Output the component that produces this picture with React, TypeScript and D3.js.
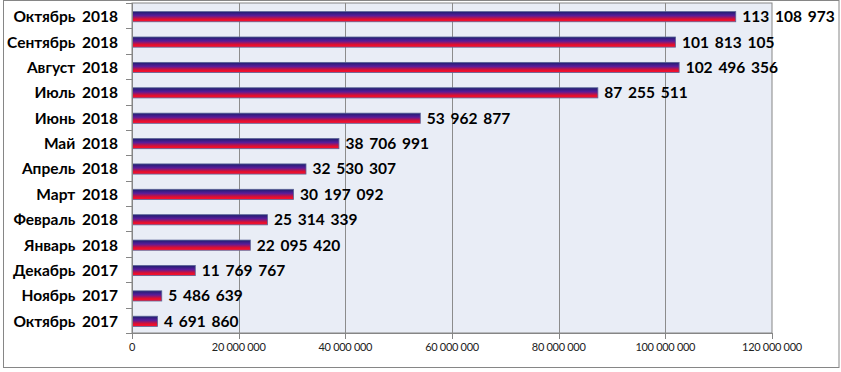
import { useEffect, useRef } from "react";
import * as d3 from "d3";

// Данные: месяцы и значения
const months = [
  "Октябрь 2018", "Сентябрь 2018", "Август 2018", "Июль 2018", "Июнь 2018",
  "Май 2018", "Апрель 2018", "Март 2018", "Февраль 2018", "Январь 2018",
  "Декабрь 2017", "Ноябрь 2017", "Октябрь 2017",
];
const values = [
  113108973, 101813105, 102496356, 87255511, 53962877,
  38706991, 32530307, 30197092, 25314339, 22095420,
  11769767, 5486639, 4691860,
];
const xTicks = [0, 20000000, 40000000, 60000000, 80000000, 100000000, 120000000];

const width = 841;
const height = 372;
const plot = { left: 132, right: 772, top: 3, bottom: 333 };

const fmt = (v: number) => d3.format(",d")(v).replace(/,/g, " ");

const drawChart = (el: SVGSVGElement) => {
  const svg = d3.select(el);
  svg.selectAll("*").remove();

  const x = d3.scaleLinear().domain([0, 120000000]).range([plot.left, plot.right]);
  const y = d3.scaleBand().domain(months).range([plot.top, plot.bottom]).paddingInner(0.6).paddingOuter(0.3);
  const band = d3.scaleBand().domain(months).range([plot.top, plot.bottom]);

  // градиент для баров
  const grad = svg.append("defs").append("linearGradient")
    .attr("id", "barGrad").attr("x1", 0).attr("y1", 0).attr("x2", 0).attr("y2", 1);
  grad.append("stop").attr("offset", "0%").attr("stop-color", "#1c1f70");
  grad.append("stop").attr("offset", "40%").attr("stop-color", "#5a1c9a");
  grad.append("stop").attr("offset", "75%").attr("stop-color", "#e0102e");
  grad.append("stop").attr("offset", "100%").attr("stop-color", "#ff1030");

  // внешняя рамка
  svg.append("rect")
    .attr("x", 3.5).attr("y", 0.5).attr("width", 835.5).attr("height", 367)
    .attr("fill", "white").attr("stroke", "#868686");

  // фон области построения
  svg.append("rect")
    .attr("x", plot.left).attr("y", plot.top)
    .attr("width", plot.right - plot.left).attr("height", plot.bottom - plot.top)
    .attr("fill", "#e9edf6").attr("stroke", "#868686");

  // сетка
  svg.append("g")
    .selectAll("line")
    .data(xTicks.slice(1, -1))
    .join("line")
    .attr("x1", d => Math.round(x(d)) + 0.5).attr("x2", d => Math.round(x(d)) + 0.5)
    .attr("y1", plot.top).attr("y2", plot.bottom)
    .attr("stroke", "#8c8c8c");

  // бары
  svg.append("g")
    .selectAll("rect")
    .data(months)
    .join("rect")
    .attr("x", plot.left + 0.5)
    .attr("y", d => y(d)! + 1)
    .attr("width", (d, i) => x(values[i]) - plot.left)
    .attr("height", y.bandwidth())
    .attr("fill", "url(#barGrad)")
    .attr("stroke", "#5b6496")
    .attr("stroke-width", 0.8);

  // подписи значений
  svg.append("g")
    .attr("font-family", "Lato, sans-serif")
    .attr("font-weight", "bold")
    .attr("font-size", 15.5)
    .attr("word-spacing", 2)
    .selectAll("text")
    .data(months)
    .join("text")
    .attr("x", (d, i) => x(values[i]) + 7)
    .attr("y", d => y(d)! + y.bandwidth() / 2 + 1)
    .attr("dy", "0.35em")
    .attr("fill", "#000")
    .text((d, i) => fmt(values[i]));

  // ось Y
  const yAxis = svg.append("g");
  yAxis.append("line")
    .attr("x1", plot.left + 0.5).attr("x2", plot.left + 0.5)
    .attr("y1", plot.top).attr("y2", plot.bottom)
    .attr("stroke", "#868686");
  const bounds = months.map(m => band(m)!).concat([plot.bottom]);
  yAxis.selectAll("line.tick")
    .data(bounds)
    .join("line")
    .attr("class", "tick")
    .attr("x1", plot.left - 6).attr("x2", plot.left)
    .attr("y1", d => Math.round(d) + 0.5).attr("y2", d => Math.round(d) + 0.5)
    .attr("stroke", "#868686");
  yAxis.selectAll("text")
    .data(months)
    .join("text")
    .attr("x", 118)
    .attr("y", d => y(d)! + y.bandwidth() / 2 + 1)
    .attr("dy", "0.35em")
    .attr("text-anchor", "end")
    .attr("font-family", "Lato, sans-serif")
    .attr("font-weight", "bold")
    .attr("font-size", 15.5)
    .attr("word-spacing", 3)
    .attr("fill", "#000")
    .text(d => d);

  // ось X
  const xAxis = svg.append("g");
  xAxis.append("line")
    .attr("x1", plot.left).attr("x2", plot.right)
    .attr("y1", plot.bottom + 0.5).attr("y2", plot.bottom + 0.5)
    .attr("stroke", "#868686");
  xAxis.selectAll("line.tick")
    .data(xTicks)
    .join("line")
    .attr("class", "tick")
    .attr("x1", d => Math.round(x(d)) + 0.5).attr("x2", d => Math.round(x(d)) + 0.5)
    .attr("y1", plot.bottom).attr("y2", plot.bottom + 6)
    .attr("stroke", "#868686");
  xAxis.selectAll("text")
    .data(xTicks)
    .join("text")
    .attr("x", d => x(d))
    .attr("y", 351)
    .attr("text-anchor", "middle")
    .attr("font-family", "Lato, sans-serif")
    .attr("font-size", 11)
    .attr("letter-spacing", -0.3)
    .attr("fill", "#222")
    .text(d => fmt(d));
};

export default function App() {
  const ref = useRef<SVGSVGElement>(null);
  useEffect(() => {
    if (ref.current) drawChart(ref.current);
  }, []);
  return (
    <svg ref={ref} width={width} height={height}
      style={{ position: "absolute", left: 0, top: 0, display: "block" }} />
  );
}
